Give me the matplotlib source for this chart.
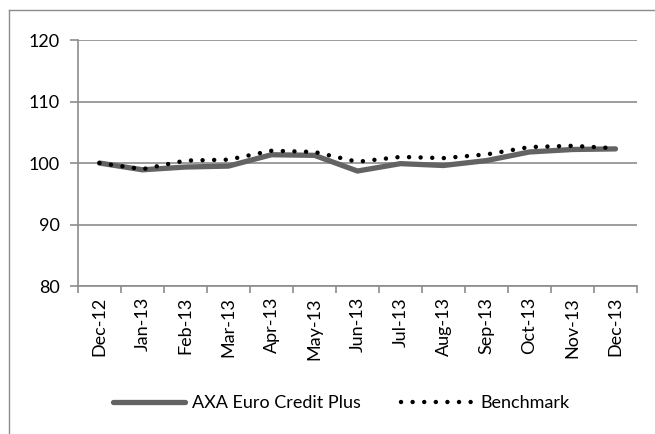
import matplotlib
matplotlib.use('Agg')
import matplotlib.pyplot as plt
from matplotlib.lines import Line2D
import numpy as np

# Data
months = ['Dec-12', 'Jan-13', 'Feb-13', 'Mar-13', 'Apr-13', 'May-13', 'Jun-13',
          'Jul-13', 'Aug-13', 'Sep-13', 'Oct-13', 'Nov-13', 'Dec-13']
axa = [100.0, 98.9, 99.35, 99.5, 101.35, 101.25, 98.7, 99.9, 99.6, 100.4, 101.8, 102.2, 102.3]
benchmark = [100.0, 99.0, 100.4, 100.55, 102.0, 101.8, 100.2, 101.0, 100.8, 101.4, 102.6, 102.8, 102.4]
y_ticks = [80, 90, 100, 110, 120]

plt.rcParams['font.family'] = ['Lato', 'DejaVu Sans']
grey = '#8c8c8c'
fs = 13

fig = plt.figure(figsize=(6.55, 4.34), dpi=100)
ax = fig.add_axes([0.119, 0.341, 0.8535, 0.5667])

x = np.arange(len(months))
ax.plot(x, axa, color='#636363', lw=3.8, solid_capstyle='round', solid_joinstyle='round',
        label='AXA Euro Credit Plus', zorder=3)
ax.plot(x, benchmark, color='black', lw=3.2, linestyle=(0, (0.01, 2.6)),
        dash_capstyle='round', label='Benchmark', zorder=4)

ax.set_xlim(-0.5, len(months) - 0.5)
ax.set_ylim(80, 120)
ax.set_yticks(y_ticks)
ax.yaxis.grid(True, color=grey, lw=1.2)
ax.set_axisbelow(True)

# category boundaries get tick marks, labels sit in the middle
ax.set_xticks(np.arange(-0.5, len(months)), minor=False)
ax.set_xticklabels([])
ax.set_xticks(x, minor=True)
ax.set_xticklabels(months, minor=True, rotation=90, fontsize=fs)
ax.tick_params(axis='x', which='minor', length=0, pad=8)
ax.tick_params(axis='x', which='major', length=5, color=grey, width=1.2)
ax.tick_params(axis='y', length=6, color=grey, width=1.2, labelsize=fs, pad=7)

for side in ['top', 'right']:
    ax.spines[side].set_visible(False)
for side in ['left', 'bottom']:
    ax.spines[side].set_color(grey)
    ax.spines[side].set_linewidth(1.2)

# outer chart frame
fig.add_artist(Line2D([9 / 655, 9 / 655], [0, 1 - 10 / 434], transform=fig.transFigure, color=grey, lw=1))
fig.add_artist(Line2D([9 / 655, 1], [1 - 10 / 434, 1 - 10 / 434], transform=fig.transFigure, color=grey, lw=1))

fig.legend(loc='center', bbox_to_anchor=(0.521, 1 - 403 / 434), ncol=2, frameon=False,
           fontsize=fs, handlelength=4.0, handletextpad=0.4, columnspacing=2.2)

fig.savefig('out.png', dpi=100)
